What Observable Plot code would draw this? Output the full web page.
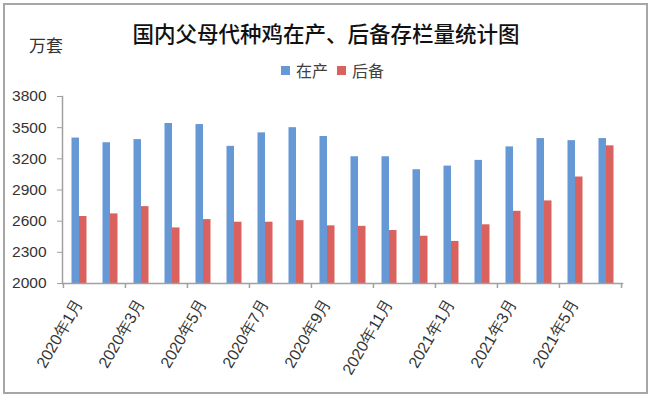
<!DOCTYPE html>
<html>
<head>
<meta charset="utf-8">
<script src="https://cdn.jsdelivr.net/npm/d3@7"></script>
<script src="https://cdn.jsdelivr.net/npm/@observablehq/plot@0.6"></script>
<style>
  html, body { margin: 0; padding: 0; background: #fff; }
  #wrap { position: relative; width: 650px; height: 397px; overflow: hidden; font-family: "Noto Sans CJK SC", sans-serif; }
  #border { position: absolute; left: 3px; top: 3px; width: 641px; height: 387px; border: 2px solid #a6a6a6; box-sizing: content-box; }
  #title { position: absolute; left: 0; width: 652px; top: 19px; text-align: center; font-size: 21.5px; font-weight: 500; color: #111; line-height: 28px; }
  #unit { position: absolute; left: 29px; top: 33px; font-size: 17px; color: #333; line-height: 24px; }
  #legend { position: absolute; left: 281px; top: 58px; font-size: 16px; color: #404040; line-height: 24px; display: flex; align-items: center; }
  .sw { display: inline-block; width: 9px; height: 9px; margin-right: 6px; }
  #chart { position: absolute; left: 0; top: 80px; }
</style>
</head>
<body>
<div id="wrap">
  <div id="border"></div>
  <div id="title">国内父母代种鸡在产、后备存栏量统计图</div>
  <div id="unit">万套</div>
  <div id="legend"></div>
  <div id="chart"></div>
</div>
<script>
const months = ["2020年1月","2020年2月","2020年3月","2020年4月","2020年5月","2020年6月","2020年7月","2020年8月","2020年9月","2020年10月","2020年11月","2020年12月","2021年1月","2021年2月","2021年3月","2021年4月","2021年5月","2021年6月"];
const zaichan = [3400,3355,3385,3540,3530,3320,3450,3500,3415,3220,3220,3095,3130,3185,3315,3395,3375,3395];
const houbei  = [2645,2670,2740,2535,2615,2590,2590,2605,2555,2550,2510,2455,2405,2565,2695,2795,3025,3325];
const seriesNames = ["在产", "后备"];
const seriesColors = ["#6698d5", "#d9625f"];
const yTicks = [2000, 2300, 2600, 2900, 3200, 3500, 3800];
const labelMonths = months.filter((d, i) => i % 2 === 0);

const legend = document.getElementById("legend");
seriesNames.forEach((n, i) => {
  const sw = document.createElement("span");
  sw.className = "sw";
  sw.style.background = seriesColors[i];
  const t = document.createElement("span");
  t.textContent = n;
  t.style.marginRight = i === 0 ? "9px" : "0";
  legend.appendChild(sw);
  legend.appendChild(t);
});

const dataA = months.map((m, i) => ({month: m, value: zaichan[i]}));
const dataB = months.map((m, i) => ({month: m, value: houbei[i]}));

const width = 650, height = 310;
const marginLeft = 62, marginRight = 28, marginTop = 16, marginBottom = 107;
const bw = (width - marginLeft - marginRight) / months.length;

const chart = Plot.plot({
  width, height, marginLeft, marginRight, marginTop, marginBottom,
  style: {fontFamily: "'Liberation Sans', Arial, sans-serif", fontSize: "14px", background: "transparent"},
  x: {domain: months, padding: 0, label: null, axis: null},
  y: {domain: [2000, 3800], label: null, axis: null},
  marks: [
    Plot.barY(dataA, {x: "month", y1: 2000, y2: "value", fill: seriesColors[0], insetLeft: 8.5, insetRight: 15}),
    Plot.barY(dataB, {x: "month", y1: 2000, y2: "value", fill: seriesColors[1], insetLeft: 16, insetRight: 7.5}),
    Plot.axisY({ticks: yTicks, tickSize: 5, tickPadding: 11, stroke: "#a0a0a0", fill: "#333", fontSize: 15.5, label: null, tickFormat: d => String(d)}),
    Plot.axisX({ticks: labelMonths, tickSize: 5, text: null, dx: -bw / 2, stroke: "#a0a0a0", strokeWidth: 1.5, label: null}),
    Plot.axisX({ticks: [months[months.length - 1]], tickSize: 5, text: null, dx: bw / 2, stroke: "#a0a0a0", strokeWidth: 1.5, label: null}),
    Plot.axisX({ticks: labelMonths, tickSize: 0, tickPadding: 17, tickRotate: -60, fill: "#333", fontSize: 16, label: null}),
    Plot.frame({anchor: "left", stroke: "#a0a0a0", strokeWidth: 1.5}),
    Plot.frame({anchor: "bottom", stroke: "#a0a0a0", strokeWidth: 1.5})
  ]
});
document.getElementById("chart").appendChild(chart);
</script>
</body>
</html>
